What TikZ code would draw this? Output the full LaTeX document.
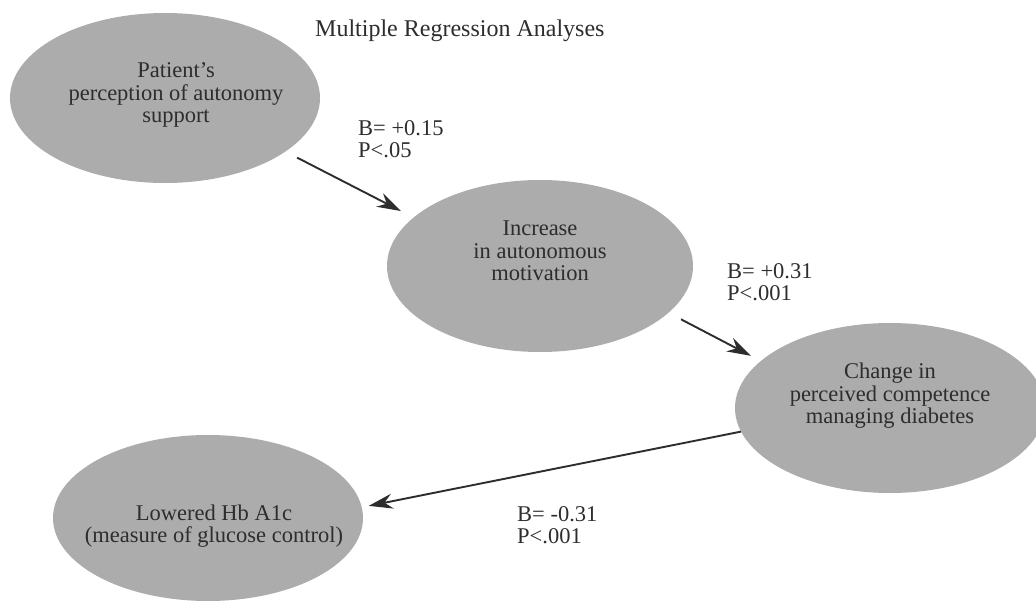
\documentclass[tikz,border=0pt]{standalone}
\usepackage{fontspec}
\setmainfont{Liberation Serif}
\usetikzlibrary{shapes.geometric,arrows.meta,positioning}
\definecolor{blobgray}{RGB}{172,172,172}
\definecolor{inkgray}{RGB}{45,45,45}
\tikzset{
  blob/.style={ellipse, fill=blobgray, draw=none, inner sep=0pt},
  blobtext/.style={align=center, text=inkgray, inner sep=0pt, font=\fontsize{22.5}{22.5}\selectfont},
  coef/.style={align=left, anchor=west, text=inkgray, inner sep=0pt, font=\fontsize{22.5}{22.5}\selectfont},
  link/.style={draw=inkgray, line width=1.9pt, -{Stealth[length=24pt,width=15pt,inset=8pt]}}
}
\begin{document}
\begin{tikzpicture}[x=1pt,y=-1pt]
  \useasboundingbox (0,0) rectangle (1036,602);
  % title
  \node[coef, font=\fontsize{24}{24}\selectfont] (title) at (315,31) {Multiple Regression Analyses};
  % the four ellipses
  \node[blob, minimum width=310pt, minimum height=170pt] (autsup) at (165,98) {};
  \node[blob, minimum width=306pt, minimum height=172pt] (motiv) at (540,266) {};
  \node[blob, minimum width=310pt, minimum height=170pt] (compet) at (890,408) {};
  \node[blob, minimum width=310pt, minimum height=166pt] (hbaic) at (208,518) {};
  \node[blobtext] (autsuptext) at (176,95) {Patient's\\perception of autonomy\\support};
  \node[blobtext] (motivtext) at (540,251) {Increase\\in autonomous\\motivation};
  \node[blobtext] (compettext) at (890,396) {Change in\\perceived competence\\managing diabetes};
  \node[blobtext] (hbaictext) at (214,526) {Lowered Hb A1c\\(measure of glucose control)};
  % coefficients
  \node[coef] (coefa) at (358,139) {B= +0.15\\P<.05};
  \node[coef] (coefb) at (727,282) {B= +0.31\\P<.001};
  \node[coef] (coefc) at (517,525) {B= -0.31\\P<.001};
  % paths
  \draw[link, shorten <=13pt, shorten >=14pt] (autsup.-24.8) -- (motiv.159.3);
  \draw[link, shorten <=14pt, shorten >=11pt] (motiv.-20.7) -- (compet.160.8);
  \draw[link, shorten >=7pt] (compet.189.3) -- (hbaic.4.6);
\end{tikzpicture}
\end{document}
